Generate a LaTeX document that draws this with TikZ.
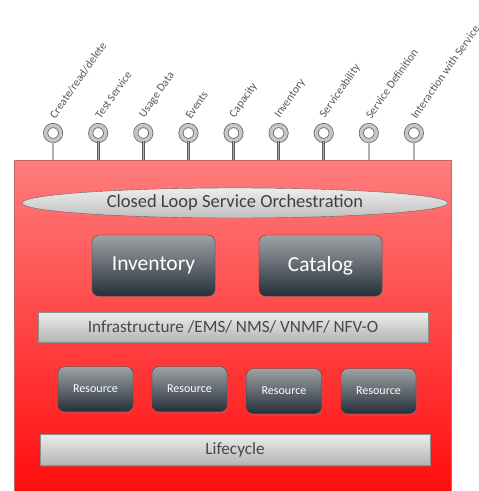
\documentclass[tikz,border=0pt]{standalone}
\usepackage{fontspec}
\setmainfont{Carlito}
\usepackage{tikz}
\usetikzlibrary{calc,shapes,shadows}
\definecolor{paneltop}{HTML}{FF7D7D}
\definecolor{panelbottom}{HTML}{FF0A0A}
\definecolor{darktop}{HTML}{9EA2A6}
\definecolor{darkbottom}{HTML}{26303A}
\definecolor{bartop}{HTML}{EDEDED}
\definecolor{barbottom}{HTML}{B4B4B4}
\definecolor{bartext}{HTML}{454850}
\tikzstyle{panel}=[rectangle,draw=red!60!black!60,top color=paneltop,
                   bottom color=panelbottom,inner sep=0pt]
\tikzstyle{darkbox}=[rectangle,rounded corners=7pt,draw=black!75,
                     top color=darktop,bottom color=darkbottom,text=white,
                     drop shadow={opacity=0.35,shadow xshift=1pt,shadow yshift=-2pt},
                     font=\fontsize{21.5}{23}\selectfont]
\tikzstyle{resbox}=[darkbox,font=\fontsize{12}{14}\selectfont]
\tikzstyle{greybar}=[rectangle,draw=black!45,top color=bartop,bottom color=barbottom,
                     text=bartext,drop shadow={opacity=0.35,shadow xshift=1pt,shadow yshift=-2pt},
                     font=\fontsize{17.2}{19}\selectfont]
\tikzstyle{ringnode}=[circle,draw=black!60,double=black!22,double distance=3.4pt,
                      line width=0.8pt,fill=white,minimum size=15pt,inner sep=0pt]
\tikzstyle{stem}=[draw=black!65,double=black!30,double distance=1.4pt,line width=0.6pt]
\tikzstyle{toplabel}=[rotate=55,anchor=south west,inner sep=1pt,text=black!65,
                      font=\fontsize{11.5}{12}\selectfont]
\newcommand\ringstep{45.1}

\begin{document}
\begin{tikzpicture}[x=1pt,y=-1pt]
    \useasboundingbox (0,0) rectangle (479,491);
    \begin{scope}
    \clip (0,0) rectangle (479,491);
    	\node [panel,minimum width=437pt,minimum height=340pt] (panel) at (232.5,330) {};
    	% interfaces on top of the panel
    	\foreach \lbl [count=\i] in {Create/read/delete,Test Service,Usage Data,Events,
    	    Capacity,Inventory,Serviceability,Service Definition,Interaction with Service} {
    		\node [ringnode] (ring\i) at (8+\ringstep*\i,133) {};
    		\draw [stem] (ring\i.south) -- (ring\i.south |- panel.north);
    		\node [toplabel] (lbl\i) at ($(ring\i.north)+(3,-4)$) {\lbl};
    	}
    	\node [ellipse,draw=black!60,top color=bartop,bottom color=black!25,
    	       minimum width=426pt,minimum height=30pt,inner sep=0pt,text=black!75,
    	       font=\fontsize{18.5}{20}\selectfont] (orch) at (235,203)
    		{Closed Loop Service Orchestration};
    	\node [darkbox,minimum width=123pt,minimum height=61pt] (inv) at (153.5,265.5) {Inventory};
    	\node [darkbox,minimum width=123pt,minimum height=61pt] (cat) at (320.5,265.5) {Catalog};
    	\node [greybar,minimum width=390pt,minimum height=30pt] (infra) at (233,327)
    		{Infrastructure /EMS/ NMS/ VNMF/ NFV-O};
    	% resources
    	\foreach \cx/\cy [count=\j] in {95.5/389,189.5/389,284/391,378.5/391} {
    		\node [resbox,minimum width=75pt,minimum height=45pt] (res\j) at (\cx,\cy) {Resource};
    	}
    	\node [greybar,minimum width=390pt,minimum height=31pt] (life) at (235,449.5) {Lifecycle};
    \end{scope}
\end{tikzpicture}
\end{document}
